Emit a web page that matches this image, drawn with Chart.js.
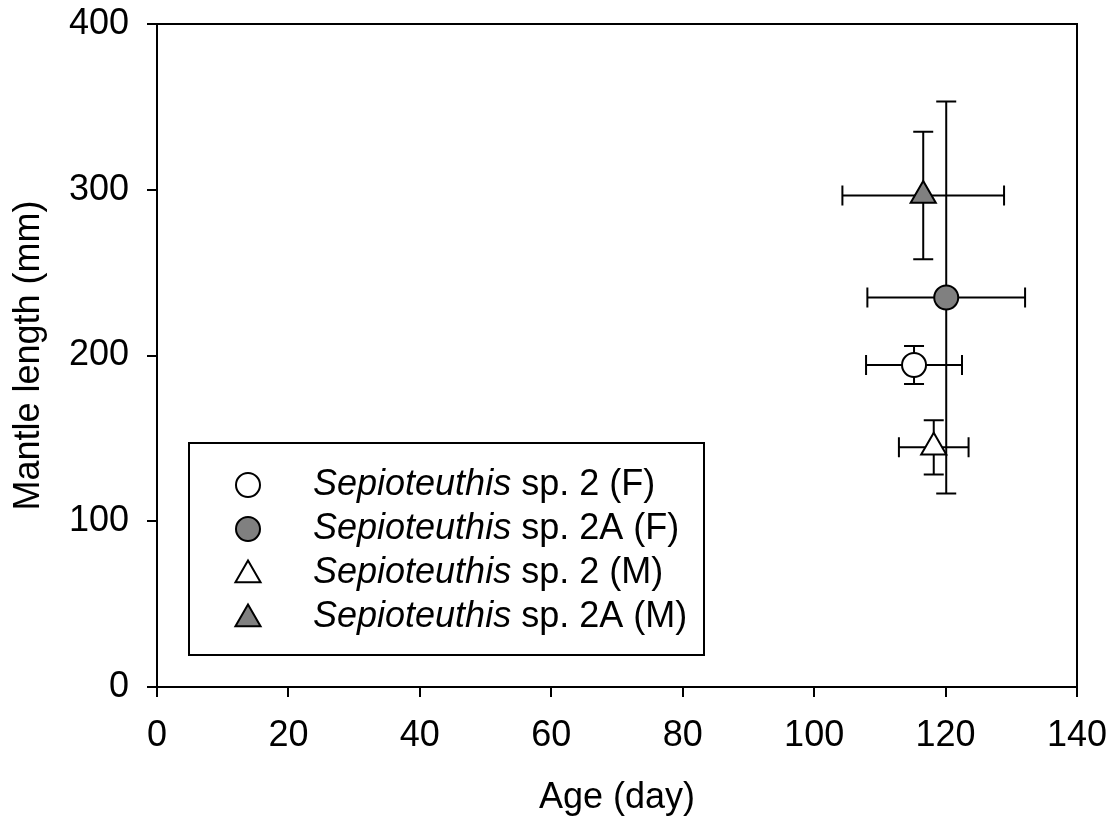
<!DOCTYPE html>
<html>
<head>
<meta charset="utf-8">
<script src="https://cdn.jsdelivr.net/npm/chart.js@4/dist/chart.umd.min.js"></script>
<style>
  html, body { margin: 0; padding: 0; background: #fff; }
  #wrap { width: 1116px; height: 824px; }
</style>
</head>
<body>
<div id="wrap"><canvas id="c" width="1116" height="824"></canvas></div>
<script>
// ---- data ----
const seriesGenus = ["Sepioteuthis", "Sepioteuthis", "Sepioteuthis", "Sepioteuthis"];
const seriesSuffix = [" sp. 2 (F)", " sp. 2A (F)", " sp. 2 (M)", " sp. 2A (M)"];
const ageMean = [115.2, 120.1, 118.2, 116.6];   // days
const ageErr  = [7.3, 12.0, 5.3, 12.3];
const mlMean  = [194.3, 235.0, 144.6, 296.5];   // mm
const mlErr   = [11.5, 118.3, 16.4, 38.5];
const xTicks = [0, 20, 40, 60, 80, 100, 120, 140];
const yTicks = [0, 100, 200, 300, 400];

// ---- styles ----
const FONT = "'Liberation Sans', Arial, sans-serif";
const FS = 36;
const fills = ["#ffffff", "#808080", "#ffffff", "#808080"];
const shapes = ["circle", "circle", "triangle", "triangle"];
const radii = [12, 12, 14.5, 14.5];

const datasets = ageMean.map((x, i) => ({
  label: seriesGenus[i] + seriesSuffix[i],
  data: [{ x: x, y: mlMean[i] }],
  pointStyle: shapes[i],
  pointRadius: radii[i],
  pointHoverRadius: radii[i],
  pointBackgroundColor: fills[i],
  pointBorderColor: "#000",
  pointBorderWidth: 2,
  showLine: false
}));

const errorBars = {
  id: "errorBars",
  beforeDatasetsDraw(chart) {
    const { ctx, scales: { x: xs, y: ys } } = chart;
    const cap = 10;
    ctx.save();
    ctx.strokeStyle = "#000";
    ctx.lineWidth = 2;
    ageMean.forEach((xv, i) => {
      const px = xs.getPixelForValue(xv);
      const py = ys.getPixelForValue(mlMean[i]);
      const xl = xs.getPixelForValue(xv - ageErr[i]);
      const xr = xs.getPixelForValue(xv + ageErr[i]);
      const yt = ys.getPixelForValue(mlMean[i] + mlErr[i]);
      const yb = ys.getPixelForValue(mlMean[i] - mlErr[i]);
      ctx.beginPath();
      ctx.moveTo(xl, py); ctx.lineTo(xr, py);
      ctx.moveTo(xl, py - cap); ctx.lineTo(xl, py + cap);
      ctx.moveTo(xr, py - cap); ctx.lineTo(xr, py + cap);
      ctx.moveTo(px, yt); ctx.lineTo(px, yb);
      ctx.moveTo(px - cap, yt); ctx.lineTo(px + cap, yt);
      ctx.moveTo(px - cap, yb); ctx.lineTo(px + cap, yb);
      ctx.stroke();
    });
    ctx.restore();
  }
};

const frameAndLegend = {
  id: "frameAndLegend",
  afterDraw(chart) {
    const { ctx, chartArea: a } = chart;
    ctx.save();
    ctx.strokeStyle = "#000";
    ctx.lineWidth = 2;
    ctx.beginPath();
    ctx.moveTo(a.left - 1, a.top); ctx.lineTo(a.right, a.top); ctx.lineTo(a.right, a.bottom + 1);
    ctx.stroke();

    // legend box
    const bx = 189, by = 443, bw = 515, bh = 212;
    ctx.strokeRect(bx, by, bw, bh);
    const rowY = [485, 529, 573, 617];
    ctx.textBaseline = "middle";
    chart.data.datasets.forEach((ds, i) => {
      ctx.fillStyle = fills[i];
      ctx.strokeStyle = "#000";
      ctx.lineWidth = 2;
      Chart.helpers.drawPoint(ctx, {
        pointStyle: shapes[i], radius: radii[i], rotation: 0, borderWidth: 2
      }, 248, rowY[i] + (shapes[i] === "triangle" ? 2 : 0));
      ctx.fillStyle = "#000";
      ctx.font = "italic " + FS + "px " + FONT;
      ctx.fillText(seriesGenus[i], 313, rowY[i]);
      const w = ctx.measureText(seriesGenus[i]).width;
      ctx.font = FS + "px " + FONT;
      ctx.fillText(seriesSuffix[i], 313 + w, rowY[i]);
    });
    ctx.restore();
  }
};

new Chart(document.getElementById("c"), {
  type: "scatter",
  data: { datasets },
  options: {
    responsive: false,
    animation: false,
    events: [],
    layout: { padding: { top: 24, right: 39, left: 0, bottom: 0 } },
    plugins: { legend: { display: false }, tooltip: { enabled: false } },
    scales: {
      x: {
        type: "linear",
        min: 0, max: 140,
        afterFit: s => { s.height = 137; s.paddingLeft = 0; s.paddingRight = 0; },
        afterBuildTicks: s => { s.ticks = xTicks.map(v => ({ value: v })); },
        ticks: { color: "#000", font: { family: FONT, size: FS }, padding: 17, maxRotation: 0, autoSkip: false },
        grid: { display: true, drawOnChartArea: false, drawTicks: true, tickLength: 10, color: "#000", lineWidth: 2 },
        border: { display: true, color: "#000", width: 2 },
        title: { display: true, text: "Age (day)", color: "#000", font: { family: FONT, size: FS }, padding: { top: 0, bottom: 4 } }
      },
      y: {
        type: "linear",
        min: 0, max: 400,
        afterFit: s => { s.width = 157; s.paddingTop = 0; s.paddingBottom = 0; },
        afterBuildTicks: s => { s.ticks = yTicks.map(v => ({ value: v })); },
        ticks: { color: "#000", font: { family: FONT, size: FS }, padding: 18, autoSkip: false },
        grid: { display: true, drawOnChartArea: false, drawTicks: true, tickLength: 10, color: "#000", lineWidth: 2 },
        border: { display: true, color: "#000", width: 2 },
        title: { display: true, text: "Mantle length (mm)", color: "#000", font: { family: FONT, size: FS }, padding: { top: 7, bottom: 0 } }
      }
    }
  },
  plugins: [errorBars, frameAndLegend]
});
</script>
</body>
</html>
